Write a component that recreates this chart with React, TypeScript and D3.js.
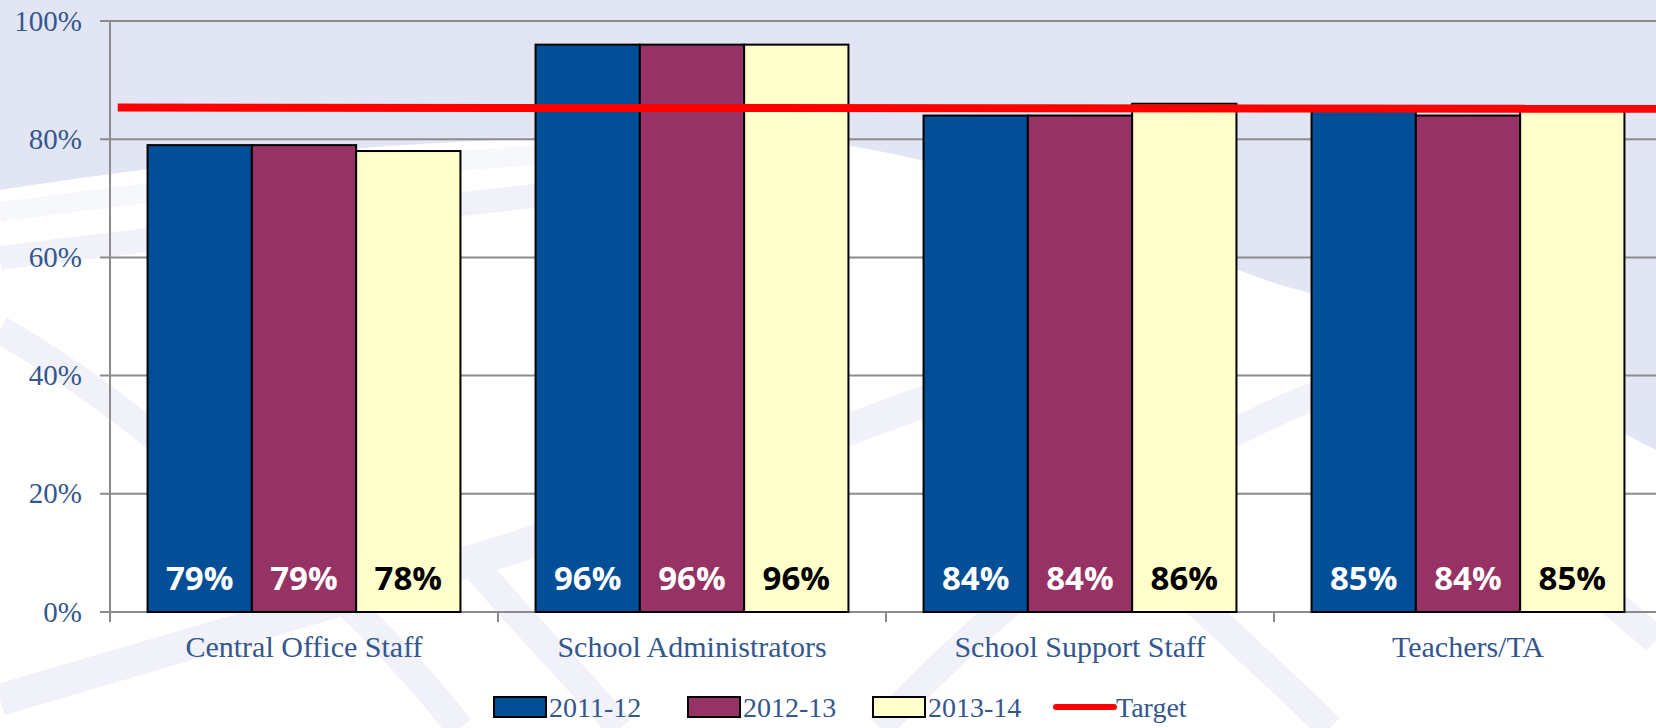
import React, { useEffect } from "react";
import * as d3 from "d3";

// ---- data ----
const categories = ["Central Office Staff", "School Administrators", "School Support Staff", "Teachers/TA"];
const seriesNames = ["2011-12", "2012-13", "2013-14"];
const values2011 = [79, 96, 84, 85];
const values2012 = [79, 96, 84, 84];
const values2013 = [78, 96, 86, 85];
const targetLine = [
  { pos: 0.02, value: 85.35 },
  { pos: 4, value: 85.15 },
];
const yTicks = [0, 20, 40, 60, 80, 100];

const seriesValues = [values2011, values2012, values2013];
const seriesColors = ["#034F97", "#973264", "#FFFFCC"];
const labelColors = ["#FFFFFF", "#FFFFFF", "#000000"];

const W = 1656;
const H = 728;
const plotLeft = 110;
const plotRight = 1662;
const plotTop = 21;
const plotBottom = 612;
const textBlue = "#34578E";
const gridColor = "#8C8C8C";

export default function App() {
  useEffect(() => {
    document.body.style.margin = "0";
    document.body.style.overflow = "hidden";
  }, []);

  const x0 = d3.scaleBand<string>().domain(categories).range([plotLeft, plotRight]).paddingInner(0).paddingOuter(0);
  const x1 = d3.scaleBand<string>().domain(seriesNames).range([0, x0.bandwidth()]).paddingInner(0).paddingOuter(0.36);
  const y = d3.scaleLinear().domain([0, 100]).range([plotBottom, plotTop]);
  const xT = d3.scaleLinear().domain([0, 4]).range([plotLeft, plotRight]);
  const line = d3
    .line<{ pos: number; value: number }>()
    .x((d) => xT(d.pos))
    .y((d) => y(d.value));

  const serif = "'Liberation Serif', 'Times New Roman', serif";
  const sans = "'Open Sans', 'Noto Sans', sans-serif";

  const legendItems = [
    { name: seriesNames[0], kind: "box", color: seriesColors[0], x: 494 },
    { name: seriesNames[1], kind: "box", color: seriesColors[1], x: 688 },
    { name: seriesNames[2], kind: "box", color: seriesColors[2], x: 873 },
    { name: "Target", kind: "line", color: "#FF0000", x: 1056 },
  ];

  const stripe = "#F0F1F9";

  return (
    <svg width={W} height={H} style={{ position: "absolute", left: 0, top: 0, display: "block" }}>
      {/* background */}
      <rect x={0} y={0} width={W} height={H} fill="#FFFFFF" />
      <path
        d="M0,0 H1656 V450 C1560,400 1420,320 1280,285 C1120,230 980,160 820,142 C620,128 320,140 0,190 Z"
        fill="#E2E6F4"
      />
      <path d="M0,212 C200,185 420,160 620,150" stroke="#F7F8FC" strokeWidth={20} fill="none" />
      <path d="M0,258 C220,230 450,205 700,178" stroke={stripe} strokeWidth={24} fill="none" />
      <path d="M0,330 C90,380 200,470 300,560 C380,630 430,690 460,728" stroke={stripe} strokeWidth={28} fill="none" />
      <path d="M0,700 C200,640 420,580 600,520 C760,460 880,420 980,380" stroke={stripe} strokeWidth={32} fill="none" />
      <path d="M470,560 C520,620 580,680 620,728" stroke={stripe} strokeWidth={28} fill="none" />
      <path d="M880,728 C960,640 1060,560 1160,480 C1240,420 1340,380 1440,360" stroke={stripe} strokeWidth={28} fill="none" />
      <path d="M1000,420 C1100,520 1220,620 1330,728" stroke={stripe} strokeWidth={28} fill="none" />
      <path d="M1500,520 C1560,560 1610,600 1656,640" stroke={stripe} strokeWidth={28} fill="none" />

      {/* gridlines */}
      {yTicks.map((t) => (
        <line
          key={"g" + t}
          x1={plotLeft - 10}
          x2={W}
          y1={y(t)}
          y2={y(t)}
          stroke={gridColor}
          strokeWidth={2}
        />
      ))}
      {/* y axis */}
      <line x1={plotLeft} x2={plotLeft} y1={plotTop} y2={plotBottom + 10} stroke={gridColor} strokeWidth={2} />
      {categories.map((c, i) =>
        i === 0 ? null : (
          <line
            key={"ct" + c}
            x1={x0(c)!}
            x2={x0(c)!}
            y1={plotBottom}
            y2={plotBottom + 10}
            stroke={gridColor}
            strokeWidth={2}
          />
        )
      )}
      {yTicks.map((t) => (
        <text
          key={"yl" + t}
          x={82}
          y={y(t)}
          dy="0.33em"
          textAnchor="end"
          fontFamily={serif}
          fontSize={29}
          fill={textBlue}
        >
          {t}%
        </text>
      ))}

      {/* bars */}
      {categories.map((c, ci) => (
        <g key={"cat" + c} transform={`translate(${x0(c)},0)`}>
          {seriesNames.map((s, si) => {
            const v = seriesValues[si][ci];
            const bx = x1(s)!;
            return (
              <g key={s}>
                <rect
                  x={bx}
                  y={y(v)}
                  width={x1.bandwidth()}
                  height={y(0) - y(v)}
                  fill={seriesColors[si]}
                  stroke="#000"
                  strokeWidth={2}
                />
                <text
                  x={bx + x1.bandwidth() / 2}
                  y={590}
                  textAnchor="middle"
                  fontFamily={sans}
                  fontWeight={700}
                  fontSize={33}
                  fill={labelColors[si]}
                >
                  {v}%
                </text>
              </g>
            );
          })}
          <text
            x={x0.bandwidth() / 2}
            y={657}
            textAnchor="middle"
            fontFamily={serif}
            fontSize={30}
            fill={textBlue}
          >
            {c}
          </text>
        </g>
      ))}

      {/* target line */}
      <path d={line(targetLine) || ""} stroke="#FF0000" strokeWidth={8} fill="none" />

      {/* legend */}
      {legendItems.map((it) => (
        <g key={it.name} transform={`translate(${it.x},707)`}>
          {it.kind === "box" ? (
            <rect x={0} y={-10} width={52} height={20} fill={it.color} stroke="#000" strokeWidth={2} />
          ) : (
            <line x1={0} x2={58} y1={0} y2={0} stroke={it.color} strokeWidth={6} strokeLinecap="round" />
          )}
          <text
            x={it.kind === "box" ? 55 : 60}
            y={0}
            dy="0.35em"
            fontFamily={serif}
            fontSize={28}
            fill={textBlue}
          >
            {it.name}
          </text>
        </g>
      ))}
    </svg>
  );
}
